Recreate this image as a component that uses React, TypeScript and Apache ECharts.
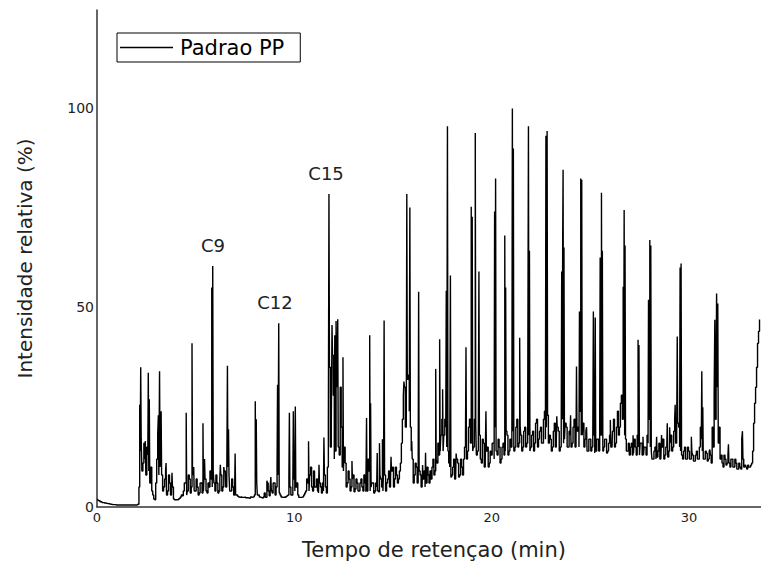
import React, { useEffect, useRef } from "react";
import * as echarts from "echarts";

// Baseline trace sampled every 0.1 min starting at 0 min (relative intensity, %)
const baselineStart = 0;
const baselineStep = 0.1;
const baseline: number[] = [
  1.9, 1.6, 1.3, 1.1, 1.0, 0.9, 0.8, 0.7, 0.6, 0.6,
  0.5, 0.5, 0.5, 0.5, 0.5, 0.5, 0.5, 0.5, 0.5, 0.5,
  0.5, 0.7, 14, 9, 16, 8, 13, 6, 4, 2,
  6, 18, 10, 8, 5, 9, 4, 6, 3, 2,
  1.8, 1.8, 2.2, 3, 4, 6, 4, 7, 5, 8,
  4, 5, 3.5, 6, 4, 7, 3.5, 5, 7, 9,
  4, 6, 4, 8, 5, 9, 6, 8, 4, 5,
  4, 3, 2.5, 2.5, 2.4, 2.5, 2.3, 2.2, 2.5, 2.5,
  3, 6, 3, 2.4, 2.2, 3.5, 2.5, 4, 5, 3.5,
  6, 5, 8, 3, 2.4, 2.5, 2.6, 3, 5, 3,
  7, 5, 3, 2.4, 2.5, 3, 4, 6, 8, 5,
  9, 5, 4, 6, 3.5, 4, 5, 10, 35, 22,
  28, 14, 30, 13, 20, 9, 11, 6, 7, 5,
  8, 4.5, 6, 4, 7, 4, 6, 4, 9, 5,
  6, 4, 5, 3.8, 7, 4, 8, 6, 9, 7,
  10, 7, 8, 7, 11, 22, 30, 25, 33, 20,
  12, 8, 10, 6, 8, 5.5, 9, 6, 8, 9,
  10, 8, 12, 16, 14, 22, 18, 20, 14, 10,
  8, 12, 7.5, 11, 8, 10, 12, 18, 14, 22,
  25, 15, 20, 14, 18, 11, 16, 12, 15, 11,
  13, 16, 20, 13, 15, 12, 16, 14, 18, 14,
  15, 19, 15, 22, 16, 18, 15, 20, 16, 18,
  15, 19, 16, 22, 17, 20, 16, 24, 20, 16,
  17, 15, 21, 16, 19, 15, 22, 17, 20, 15,
  18, 16, 22, 16, 20, 24, 18, 15, 19, 14,
  17, 15, 18, 14, 17, 22, 18, 15, 17, 14,
  18, 15, 22, 16, 24, 20, 28, 22, 17, 14,
  13, 16, 13.5, 15, 18, 13, 16, 13, 15, 18,
  22, 14, 12, 15, 12.5, 16, 12, 17, 13, 15,
  14, 18, 15, 22, 18, 20, 14, 12, 15, 12,
  14, 12, 13, 11.5, 14, 12, 20, 14, 12, 13.5,
  12, 13, 20, 28, 35, 16, 12, 11, 13, 10.5,
  13, 10, 12, 10, 11, 9.5, 10, 17, 10, 10,
  10.5, 10, 11, 21, 30, 41, 47,
];

// Intermediate noise samples, every 0.1 min starting at 2.05 min
const noiseStart = 2.05;
const noiseStep = 0.1;
const noise: number[] = [
  0.5, 5, 17, 11, 12, 15, 9, 10, 3, 1.8,
  12, 8, 14, 4, 7, 3, 8, 3, 5, 1.8,
  1.8, 2, 2.5, 2.8, 6, 3, 8, 3.5, 9, 4,
  7, 3, 6, 3.5, 8, 4, 6, 9, 5, 6,
  8, 3.5, 7, 4, 10, 5, 10, 4, 7, 3,
  3, 2.7, 2.4, 2.4, 2.4, 2.3, 2.3, 2.2, 2.4, 2.6,
  8, 3, 2.5, 2.3, 2.5, 2.4, 6, 2.8, 4, 6,
  3, 10, 3.5, 2.5, 2.4, 2.4, 2.8, 8, 3, 6,
  4, 6, 2.4, 2.4, 2.6, 3.5, 7, 4, 10, 4,
  5, 7, 3.5, 5, 6, 8, 3.5, 20, 15, 38,
  12, 35, 15, 30, 10, 15, 5, 9, 4, 7,
  3.8, 7, 4, 6, 5, 8, 3.8, 12, 4, 6,
  3.5, 6, 4, 8, 5, 10, 4, 7, 5, 9,
  5, 10, 6, 9, 16, 28, 20, 32, 24, 14,
  6, 11, 6, 9, 5, 7, 5, 10, 6, 7,
  12, 9, 11, 13, 18, 14, 22, 15, 11, 7.5,
  10, 7, 12, 7.5, 12, 8, 15, 12, 20, 16,
  14, 22, 13, 19, 12, 17, 10, 14, 10, 14,
  16, 12, 14, 17, 11, 15, 13, 19, 13, 17,
  18, 14, 20, 15, 20, 14, 19, 15, 21, 14,
  18, 14, 21, 15, 19, 16, 22, 17, 23, 18,
  14, 19, 15, 20, 14, 18, 16, 21, 15, 19,
  15, 20, 15, 19, 15, 18, 21, 17, 14, 17,
  14, 18, 13.5, 17, 14, 18, 14, 17, 13.5, 16,
  15, 19, 15, 20, 18, 26, 22, 18, 14, 16,
  15, 13, 17, 13, 15, 16, 13, 15, 13, 16,
  15, 12, 14, 12, 14, 12, 15, 12, 15, 12.5,
  16, 14, 19, 16, 21, 15, 13, 14, 12, 15,
  12, 14, 11.5, 13, 12, 15, 17, 12, 14, 11.5,
  14, 11, 15, 22, 30, 20, 13, 10, 12, 11,
  11, 12, 10, 12, 9.5, 11, 9.5, 12, 10.5, 9.5,
  10, 10.5, 14, 26, 35, 44,
];

// Peak apexes: [retention time (min), relative intensity (%)]
const peaks: [number, number][] = [
  [2.18, 25.6], [2.23, 35], [2.45, 16.5], [2.6, 33.6], [2.65, 27], [3.12, 23], [3.19, 34], [3.25, 24], [3.5, 11], [3.8, 8.6],
  [4.54, 23.6], [4.83, 41], [4.9, 10], [5.39, 21], [5.45, 12], [5.83, 55], [5.88, 60.4], [6.25, 10.6], [6.45, 9], [6.62, 35.4], [6.68, 19.5], [7.0, 13.4],
  [8.04, 26.5], [8.09, 22], [8.62, 6.6], [8.82, 7.5], [9.15, 30.6], [9.22, 46], [9.75, 23.6], [9.95, 24], [10.05, 25.2], [10.74, 16.5],
  [11.25, 10.6], [11.5, 17.4], [11.76, 78.4], [11.92, 45.6], [12.05, 43], [12.13, 46.6], [12.2, 47], [12.48, 37.5],
  [12.94, 11.5], [13.67, 22.3], [13.84, 43], [13.88, 26], [14.2, 13.5], [14.33, 16], [14.48, 17], [14.55, 46.7], [14.9, 12.6],
  [15.56, 31.4], [15.7, 78.4], [15.86, 75], [15.95, 16.5], [16.3, 53.9], [16.5, 10.5], [16.65, 13.6],
  [17.18, 34.6], [17.38, 42], [17.53, 29.5], [17.7, 54.2], [17.77, 95.4], [17.92, 58], [18.2, 13.4],
  [18.7, 40], [18.98, 75.2], [19.03, 72.7], [19.19, 93.7], [19.36, 59], [19.72, 24], [20.15, 74], [20.2, 82.3], [20.68, 68], [20.72, 55],
  [21.05, 99.8], [21.1, 89.8], [21.44, 42.4], [21.85, 68], [21.88, 95.4], [21.93, 64.2], [22.75, 93], [22.82, 94.2],
  [23.3, 22.7], [23.55, 59], [23.6, 66.5], [23.64, 84.5], [23.68, 65], [24.0, 23], [24.3, 35.2], [24.45, 49], [24.53, 82.3], [24.58, 82], [24.82, 20],
  [25.16, 49], [25.25, 47.5], [25.5, 62.5], [25.58, 78.7], [25.62, 64.2], [26.03, 21.8], [26.68, 55.2], [26.73, 74.4], [26.77, 65.5],
  [27.18, 18], [27.44, 41.9], [27.48, 40.6], [27.69, 17.6], [27.95, 51.9], [28.03, 66.9], [28.08, 65.5], [28.37, 17.6], [28.62, 18], [28.9, 21],
  [29.04, 20], [29.3, 25.6], [29.41, 42.7], [29.55, 60], [29.6, 61], [30.14, 17.6], [30.65, 34], [30.7, 25], [31.07, 14.4],
  [31.32, 46.9], [31.4, 53.5], [31.47, 51], [32.0, 15.7], [32.72, 19],
];

// Labelled alkane peaks
const annotationNames = ["C9", "C12", "C15"];
const annotationTimes = [5.88, 9.22, 11.76];
const annotationValues = [60.4, 46, 78.4];

const seriesName = "Padrao PP";
const xTitle = "Tempo de retençao (min)";
const yTitle = "Intensidade relativa (%)";
const xTicks = [0, 10, 20, 30];
const yTicks = [0, 50, 100];

const FONT = "DejaVu Sans";

export default function App() {
  const ref = useRef<HTMLDivElement>(null);

  useEffect(() => {
    if (!ref.current) return;
    const chart = echarts.init(ref.current, undefined, { renderer: "svg" });

    const trace: [number, number][] = baseline.map((v, i) => [
      +(baselineStart + i * baselineStep).toFixed(3),
      v,
    ]);
    const mids: [number, number][] = noise.map((v, i) => [
      +(noiseStart + i * noiseStep).toFixed(3),
      v,
    ]);
    const all = trace.concat(mids, peaks).sort((a, b) => a[0] - b[0]);

    const labelOffsets: [number, number][] = [
      [0, 0],
      [-4, 0],
      [-3, 0],
    ];

    chart.setOption({
      animation: false,
      backgroundColor: "#fff",
      grid: { left: 97, right: 0, top: 10, bottom: 57, containLabel: false },
      legend: {
        data: [seriesName],
        left: 117,
        top: 33,
        icon: "rect",
        itemWidth: 53,
        itemHeight: 1.5,
        borderColor: "#000",
        borderWidth: 1,
        borderRadius: 0,
        backgroundColor: "#fff",
        padding: [4, 16, 4, 3],
        textStyle: {
          fontFamily: FONT,
          fontSize: 21,
          color: "#000",
          lineHeight: 21,
          padding: [0, 0, 0, 2],
        },
      },
      xAxis: {
        type: "value",
        min: 0,
        max: 33.65,
        interval: 10,
        name: xTitle,
        nameLocation: "middle",
        nameGap: 32,
        nameTextStyle: { fontFamily: FONT, fontSize: 21, color: "#222", padding: [0, 0, 0, 10] },
        axisLine: { show: true, onZero: false, lineStyle: { color: "#333", width: 1.5 } },
        axisTick: { show: false },
        splitLine: { show: false },
        axisLabel: {
          fontFamily: FONT,
          fontSize: 13,
          color: "#222",
          margin: 4,
          showMaxLabel: false,
          formatter: (v: number) => (xTicks.includes(v) ? String(v) : ""),
        },
      },
      yAxis: {
        type: "value",
        min: 0,
        max: 124.5,
        interval: 50,
        name: yTitle,
        nameLocation: "middle",
        nameGap: 62,
        nameTextStyle: { fontFamily: FONT, fontSize: 20, color: "#222" },
        axisLine: { show: true, onZero: false, lineStyle: { color: "#333", width: 1.5 } },
        axisTick: { show: false },
        splitLine: { show: false },
        axisLabel: {
          fontFamily: FONT,
          fontSize: 14,
          color: "#222",
          margin: 3,
          showMaxLabel: false,
          formatter: (v: number) => (yTicks.includes(v) ? String(v) : ""),
        },
      },
      series: [
        {
          name: seriesName,
          type: "line",
          data: all,
          step: "middle",
          symbol: "none",
          showSymbol: false,
          lineStyle: { color: "#000", width: 1.4 },
          itemStyle: { color: "#000" },
          markPoint: {
            symbol: "rect",
            symbolSize: 1,
            itemStyle: { color: "rgba(0,0,0,0)" },
            label: {
              show: true,
              position: "top",
              distance: 11,
              formatter: "{b}",
              fontFamily: FONT,
              fontSize: 18,
              color: "#222",
            },
            data: annotationNames.map((n, i) => ({
              name: n,
              coord: [annotationTimes[i], annotationValues[i]],
              label: { offset: labelOffsets[i] },
            })),
          },
        },
      ],
    });

    return () => chart.dispose();
  }, []);

  return (
    <div
      ref={ref}
      style={{ position: "absolute", left: 0, top: 0, width: 761, height: 565 }}
    />
  );
}
